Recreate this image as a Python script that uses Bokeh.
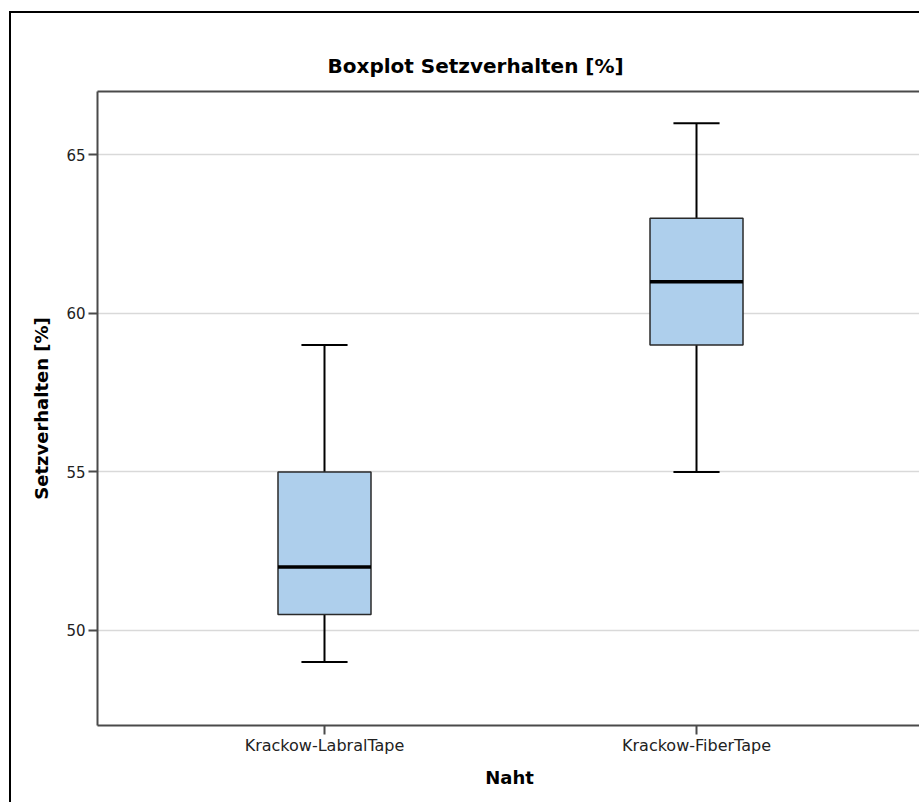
from bokeh.plotting import figure
from bokeh.models import Range1d, FixedTicker, LinearAxis, ColumnDataSource
from bokeh.embed import file_html
from bokeh.resources import INLINE

# ---- data ----
categories = ["Krackow-LabralTape", "Krackow-FiberTape"]
lower_whisker = [49, 55]
q1 = [50.5, 59]
median = [52, 61]
q3 = [55, 63]
upper_whisker = [59, 66]
y_ticks = [50, 55, 60, 65]

title_text = "Boxplot Setzverhalten [%]"
y_label = "Setzverhalten [%]"
x_label = "Naht"

xpos = list(range(len(categories)))
box_w = 0.25
cap_w = 0.124

src = ColumnDataSource(dict(
    x=xpos,
    lo=lower_whisker, q1=q1, med=median, q3=q3, hi=upper_whisker,
    bl=[x - box_w / 2 for x in xpos], br=[x + box_w / 2 for x in xpos],
    cl=[x - cap_w / 2 for x in xpos], cr=[x + cap_w / 2 for x in xpos],
))

FONT = "DejaVu Sans"
AXIS_COL = "#4a4a4a"

p = figure(width=910, height=791, output_backend="svg", toolbar_location=None,
           x_range=Range1d(-0.6102, 1.6048), y_range=Range1d(47, 67),
           min_border_left=86, min_border_right=0, min_border_top=78,
           min_border_bottom=79)
p.outline_line_color = None
p.background_fill_color = "white"
p.border_fill_color = "white"
p.styles = {"margin-left": "9px", "margin-top": "11px",
            "border-left": "2px solid black", "border-top": "2px solid black"}

# whiskers
p.segment(x0="x", x1="x", y0="q3", y1="hi", source=src, line_color="black", line_width=2)
p.segment(x0="x", x1="x", y0="lo", y1="q1", source=src, line_color="black", line_width=2)
p.segment(x0="cl", x1="cr", y0="hi", y1="hi", source=src, line_color="black", line_width=2)
p.segment(x0="cl", x1="cr", y0="lo", y1="lo", source=src, line_color="black", line_width=2)
# boxes
p.quad(left="bl", right="br", bottom="q1", top="q3", source=src,
       fill_color="#aecfec", line_color="#2a2a2a", line_width=1.5)
# median
p.segment(x0="bl", x1="br", y0="med", y1="med", source=src, line_color="black", line_width=3.5)

# grid
p.xgrid.visible = False
p.ygrid.ticker = FixedTicker(ticks=y_ticks)
p.ygrid.grid_line_color = "#d9d9d9"
p.ygrid.grid_line_width = 1.5

# y axis
ya = p.yaxis[0]
ya.ticker = FixedTicker(ticks=y_ticks)
ya.axis_label = y_label
ya.axis_label_text_font = FONT
ya.axis_label_text_font_style = "bold"
ya.axis_label_text_font_size = "18px"
ya.axis_label_text_color = "black"
ya.axis_label_standoff = 11
ya.major_label_text_font = FONT
ya.major_label_text_font_size = "15px"
ya.major_label_text_color = "#222222"
ya.major_label_standoff = 3
ya.major_tick_in = 0
ya.major_tick_out = 9
ya.minor_tick_out = 0
ya.minor_tick_in = 0
ya.axis_line_color = AXIS_COL
ya.axis_line_width = 2
ya.major_tick_line_color = AXIS_COL
ya.major_tick_line_width = 2

# x axis
xa = p.xaxis[0]
xa.ticker = FixedTicker(ticks=xpos)
xa.major_label_overrides = dict(zip(xpos, categories))
xa.axis_label = x_label
xa.axis_label_text_font = FONT
xa.axis_label_text_font_style = "bold"
xa.axis_label_text_font_size = "18px"
xa.axis_label_text_color = "black"
xa.axis_label_standoff = 9
xa.major_label_text_font = FONT
xa.major_label_text_font_size = "16px"
xa.major_label_text_color = "#222222"
xa.major_label_standoff = 1
xa.major_tick_in = 0
xa.major_tick_out = 9
xa.minor_tick_out = 0
xa.minor_tick_in = 0
xa.axis_line_color = AXIS_COL
xa.axis_line_width = 2
xa.major_tick_line_color = AXIS_COL
xa.major_tick_line_width = 2

# top frame line
top = LinearAxis(ticker=FixedTicker(ticks=[]), major_tick_out=0, major_tick_in=0,
                 minor_tick_out=0, minor_tick_in=0, major_label_standoff=0,
                 axis_line_color=AXIS_COL, axis_line_width=2)
p.add_layout(top, "above")

# title
p.title.text = title_text
p.title.align = "left"
p.title.offset = 230
p.title.text_font = FONT
p.title.text_font_style = "bold"
p.title.text_font_size = "20px"
p.title.text_color = "black"
p.title.standoff = 27

open("out.html", "w").write(file_html(p, INLINE))
